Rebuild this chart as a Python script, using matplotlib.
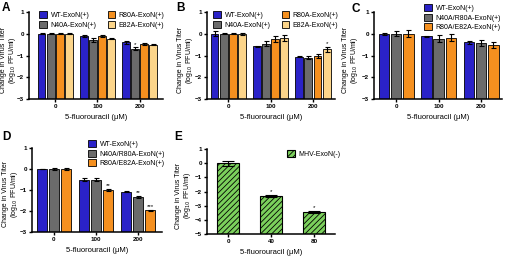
import numpy as np
import matplotlib
matplotlib.use('Agg')
import matplotlib.pyplot as plt

plt.rcParams['font.family'] = ['Liberation Sans', 'DejaVu Sans']
plt.rcParams['hatch.linewidth'] = 0.6

#Data
doses = ['0', '100', '200']
e_doses = ['0', '40', '80']

a_names = ['WT-ExoN(+)', 'N40A-ExoN(+)', 'R80A-ExoN(+)', 'E82A-ExoN(+)']
a_vals = [[0, -0.12, -0.40], [0, -0.28, -0.68], [0, -0.12, -0.47], [0, -0.22, -0.50]]
a_errs = [[0.03, 0.05, 0.06], [0.02, 0.08, 0.05], [0.02, 0.05, 0.03], [0.02, 0.03, 0.03]]
a_stars = {(1, 2): '*'}

b_names = a_names
b_vals = [[0, -0.57, -1.05], [0, -0.45, -1.10], [0, -0.25, -1.02], [0, -0.20, -0.72]]
b_errs = [[0.12, 0.02, 0.03], [0.03, 0.12, 0.08], [0.03, 0.15, 0.08], [0.04, 0.12, 0.10]]
b_stars = {(3, 2): '*'}

c_names = ['WT-ExoN(+)', 'N40A/R80A-ExoN(+)', 'R80A/E82A-ExoN(+)']
c_vals = [[0, -0.12, -0.40], [0, -0.22, -0.43], [0, -0.18, -0.52]]
c_errs = [[0.04, 0.03, 0.08], [0.12, 0.18, 0.15], [0.15, 0.17, 0.15]]
c_stars = {}

d_names = c_names
d_vals = [[0, -0.50, -1.08], [0, -0.50, -1.35], [0, -1.00, -1.97]]
d_errs = [[0.02, 0.05, 0.03], [0.03, 0.05, 0.05], [0.05, 0.05, 0.04]]
d_stars = {(2, 1): '**', (1, 2): '**', (2, 2): '***'}

e_name = 'MHV-ExoN(-)'
e_vals = [0, -2.32, -3.45]
e_errs = [0.18, 0.05, 0.07]
e_stars = {1: '*', 2: '*'}

colors4 = ['#2a22c8', '#6b6b6b', '#f5901f', '#fcd58a']
colors3 = ['#2a22c8', '#6b6b6b', '#f5901f']

fig = plt.figure(figsize=(5.05, 2.56), dpi=100)

def style(ax, ylim, yticks, width_px, label_off):
    ax.spines['top'].set_visible(False)
    ax.spines['right'].set_visible(False)
    ax.spines['left'].set_linewidth(1.1)
    ax.spines['bottom'].set_linewidth(1.1)
    ax.set_ylim(*ylim)
    ax.set_yticks(yticks)
    ax.tick_params(length=2.5, width=1, labelsize=4.5, pad=1)
    for t in ax.get_xticklabels() + ax.get_yticklabels():
        t.set_fontweight('bold')
    ax.set_ylabel('Change in Virus Titer\n(log$_{10}$ PFU/ml)', fontsize=5, linespacing=0.95)
    #label_off = distance in pixels from spine to right edge of the label
    ax.yaxis.set_label_coords(-label_off / width_px, 0.45)
    ax.set_xlabel('5-fluorouracil (\u03bcM)', fontsize=5.5, labelpad=4)

def grouped(rect, names, vals, errs, stars, colors, xlim, leg_pos, ncol, label_off):
    ax = fig.add_axes(rect)
    n = len(names)
    x = np.arange(len(doses))
    step = 0.86 / n
    for i in range(n):
        pos = x + (i - (n - 1) / 2) * step
        # bars grow up from the bottom of the axis, as in the original
        ax.bar(pos, np.array(vals[i]) + 3, bottom=-3, width=step * 0.86, color=colors[i],
               edgecolor='black', linewidth=0.6, label=names[i], zorder=2)
        ax.errorbar(pos, vals[i], yerr=errs[i], fmt='none', ecolor='black',
                    elinewidth=0.8, capsize=1.8, capthick=0.8, zorder=3)
    for (i, g), s in stars.items():
        p = g + (i - (n - 1) / 2) * step
        ax.text(p, vals[i][g] + errs[i][g] + 0.04, s, ha='center', va='bottom', fontsize=4.5)
    ax.set_xticks(x)
    ax.set_xticklabels(doses)
    ax.set_xlim(*xlim)
    style(ax, (-3, 1), [1, 0, -1, -2, -3], rect[2] * 505, label_off)
    ax.legend(loc='upper left', bbox_to_anchor=leg_pos, bbox_transform=fig.transFigure,
              ncol=ncol, fontsize=5, frameon=False, handlelength=1.1, handleheight=1.1,
              handletextpad=0.5, columnspacing=1.6, labelspacing=0.25, borderpad=0)
    return ax

#Panel A
grouped([29 / 505, 1 - 99 / 256, 134 / 505, 87 / 256], a_names, a_vals, a_errs, a_stars,
        colors4, (-0.62, 2.55), (36 / 505, 1 - 8 / 256), 2, 11)
#Panel B
grouped([207 / 505, 1 - 99 / 256, 128 / 505, 87 / 256], b_names, b_vals, b_errs, b_stars,
        colors4, (-0.5, 2.52), (210 / 505, 1 - 8 / 256), 2, 12)
#Panel C
grouped([374 / 505, 1 - 99 / 256, 128 / 505, 87 / 256], c_names, c_vals, c_errs, c_stars,
        colors3, (-0.52, 2.49), (421 / 505, 1 - 1 / 256), 1, 14)
#Panel D
grouped([32 / 505, 1 - 232 / 256, 130 / 505, 84 / 256], d_names, d_vals, d_errs, d_stars,
        colors3, (-0.52, 2.57), (85 / 505, 1 - 137 / 256), 1, 12)

#Panel E
ax = fig.add_axes([207 / 505, 1 - 234 / 256, 128 / 505, 85 / 256])
xe = np.arange(len(e_doses))
ax.bar(xe, np.array(e_vals) + 5, bottom=-5, width=0.52, color='#7bd05c', edgecolor='black',
       linewidth=0.8, hatch='//////', label=e_name, zorder=2)
ax.errorbar(xe, e_vals, yerr=e_errs, fmt='none', ecolor='black', elinewidth=0.8,
            capsize=4, capthick=0.8, zorder=3)
for g, s in e_stars.items():
    ax.text(g, e_vals[g] + e_errs[g] + 0.1, s, ha='center', va='bottom', fontsize=4.5)
ax.set_xticks(xe)
ax.set_xticklabels(e_doses)
ax.set_xlim(-0.49, 2.49)
style(ax, (-5, 1), [1, 0, -1, -2, -3, -4, -5], 128, 14)
ax.legend(loc='upper left', bbox_to_anchor=(284 / 505, 1 - 147 / 256), bbox_transform=fig.transFigure,
          fontsize=5, frameon=False, handlelength=1.1, handleheight=1.1,
          handletextpad=0.5, borderpad=0)

#Panel letters
for letter, px, py in [('A', 2, 2), ('B', 176, 2), ('C', 352, 3), ('D', 2, 131), ('E', 174, 131)]:
    fig.text(px / 505, 1 - py / 256, letter, fontsize=8.5, fontweight='bold', ha='left', va='top')

fig.savefig('out.png', dpi=100)
